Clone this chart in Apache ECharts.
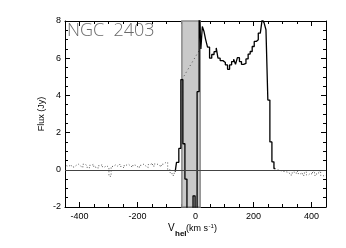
<!DOCTYPE html>
<html><head><meta charset="utf-8">
<script src="https://cdn.jsdelivr.net/npm/echarts@6/dist/echarts.min.js"></script>
<style>html,body{margin:0;padding:0;background:#fff}#c{width:346px;height:248px}</style>
</head><body><div id="c"></div>
<script>
// Axis ranges / ticks
const xRange = [-450, 450];
const yRange = [-2, 8];
const xTickLabels = [-400, -200, 0, 200, 400];
const yTickLabels = [-2, 0, 2, 4, 6, 8];

// Left baseline (dotted)
const leftX = [-445,-437,-430,-422,-415,-407,-400,-392,-385,-377,-370,-362,-355,-347,-340,-332,-325,-317,-310,-302,-295,-287,-280,-272,-265,-257,-250,-242,-235,-227,-220,-212,-205,-197,-190,-182,-175,-167,-160,-152,-145,-137,-130,-122,-115,-107,-100,-92,-85,-77,-70];
const leftY = [0.22,0.18,0.28,0.15,0.24,0.3,0.2,0.12,0.3,0.22,0.1,0.24,0.3,0.14,0.08,0.22,0.28,0.15,0.22,0.12,-0.35,0.18,0.26,0.2,0.3,0.18,0.1,0.25,0.3,0.2,0.14,0.26,0.18,0.1,0.24,0.3,0.2,0.12,0.28,0.36,0.2,0.32,0.25,0.15,0.3,0.38,0.4,0.02,-0.15,-0.3,-0.1];

// Main emission profile (solid)
const mainX = [-70,-61,-54,-47,-40,-33,-26,-19,-12,-5,2,9,16,21,26,32,38,45,52,60,68,75,80,90,99,107,114,121,128,135,141,148,155,162,170,178,185,192,199,206,213,220,227,233,240,246,253,260,267,274];
const mainY = [-0.1,0.4,1.15,4.85,1.4,-0.5,-5,-5,-5,-1.4,-5,4.2,9,6.5,7.7,7.45,7.0,6.6,6.0,6.2,6.35,6.55,6.0,5.87,5.77,5.64,5.4,5.64,5.82,5.94,5.67,6.03,5.82,5.67,5.72,5.96,6.22,6.36,6.63,6.9,6.99,7.35,7.44,8.1,7.9,7.53,3.75,1.5,0.43,0.07];

// Right baseline (dotted)
const rightX = [274,281,288,295,302,309,316,323,330,337,344,351,358,365,372,379,386,393,400,407,414,421,428,435,442,449];
const rightY = [0.07,0.02,-0.02,-0.05,-0.08,-0.1,-0.12,-0.15,-0.28,-0.12,-0.2,-0.08,-0.22,-0.15,-0.3,-0.12,-0.28,-0.18,-0.25,-0.05,-0.3,-0.18,-0.05,-0.3,-0.35,-0.3];

// Interpolation across contaminated range (dotted)
const interpX = [-47, 16];
const interpY = [4.85, 6.5];

// Galactic-contamination band
const bandRange = [-47, 16];

const pairs = (xs, ys) => xs.map((x, i) => [x, ys[i]]);

const chart = echarts.init(document.getElementById('c'), null, {renderer: 'canvas'});
const axisCommon = {
  type: 'value',
  axisLine: {show: true, onZero: false, lineStyle: {color: '#000', width: 1}},
  axisTick: {show: true, inside: true, length: 5, lineStyle: {color: '#000', width: 1}},
  minorTick: {show: true, splitNumber: 4, length: 3, lineStyle: {color: '#000', width: 1}},
  splitLine: {show: false},
  minorSplitLine: {show: false}
};
const lblFont = {fontFamily: 'Liberation Sans, Arial, sans-serif', fontSize: 9, color: '#000'};

chart.setOption({
  animation: false,
  backgroundColor: '#fff',
  grid: {left: 65, right: 20, top: 21, bottom: 41, containLabel: false},
  xAxis: [
    Object.assign({}, axisCommon, {
      position: 'bottom', min: xRange[0], max: xRange[1],
      axisLabel: Object.assign({}, lblFont, {margin: 5, showMinLabel: true, showMaxLabel: true,
        formatter: v => xTickLabels.indexOf(v) >= 0 ? String(v) : ''})
    }),
    Object.assign({}, axisCommon, {
      position: 'top', min: xRange[0], max: xRange[1], axisLabel: {show: false}
    })
  ],
  yAxis: [
    Object.assign({}, axisCommon, {
      position: 'left', min: yRange[0], max: yRange[1], interval: 2,
      axisLabel: Object.assign({}, lblFont, {margin: 4,
        formatter: v => yTickLabels.indexOf(v) >= 0 ? String(v) : ''})
    }),
    Object.assign({}, axisCommon, {
      position: 'right', min: yRange[0], max: yRange[1], interval: 2, axisLabel: {show: false}
    })
  ],
  series: [
    {
      type: 'line', data: [], z: 1, silent: true,
      markArea: {
        silent: true,
        itemStyle: {color: '#c9c9c9', borderColor: '#8a8a8a', borderWidth: 1.5},
        data: [[{xAxis: bandRange[0]}, {xAxis: bandRange[1]}]]
      },
      markLine: {
        silent: true, symbol: 'none', label: {show: false},
        lineStyle: {color: '#444', width: 1, type: 'solid'},
        data: [{yAxis: 0}]
      }
    },
    {
      type: 'line', data: pairs(leftX, leftY), step: 'middle', showSymbol: false, z: 3,
      lineStyle: {color: '#555', width: 1, type: [1, 2]}
    },
    {
      type: 'line', data: pairs(rightX, rightY), step: 'middle', showSymbol: false, z: 3,
      lineStyle: {color: '#555', width: 1, type: [1, 2]}
    },
    {
      type: 'line', data: pairs(interpX, interpY), showSymbol: false, z: 3,
      lineStyle: {color: '#555', width: 1, type: [1, 3]}
    },
    {
      type: 'line', data: pairs(mainX, mainY), step: 'middle', showSymbol: false, z: 4, clip: true,
      lineStyle: {color: '#000', width: 1.3}
    }
  ],
  graphic: [
    {type: 'text', left: 67, top: 22, style: {text: 'NGC  2403', fill: '#6a6a6a',
      font: '300 18px "Open Sans", "DejaVu Sans", sans-serif'}},
    {type: 'text', x: 42, y: 114, rotation: Math.PI / 2, style: {text: 'Flux (Jy)', fill: '#000',
      font: '9px "Liberation Sans", Arial, sans-serif', align: 'center', verticalAlign: 'middle'}},
    {type: 'text', x: 168, y: 233, style: {text: 'V', fill: '#000',
      font: '10px "Liberation Sans", Arial, sans-serif', verticalAlign: 'bottom'}},
    {type: 'text', x: 175, y: 238, style: {text: 'hel', fill: '#000',
      font: 'bold 8px "Liberation Sans", Arial, sans-serif', verticalAlign: 'bottom'}},
    {type: 'text', x: 186, y: 233, style: {text: '(km s', fill: '#000',
      font: '9px "Liberation Sans", Arial, sans-serif', verticalAlign: 'bottom'}},
    {type: 'text', x: 208.5, y: 229, style: {text: '-1', fill: '#000',
      font: '6px "Liberation Sans", Arial, sans-serif', verticalAlign: 'bottom'}},
    {type: 'text', x: 214, y: 233, style: {text: ')', fill: '#000',
      font: '9px "Liberation Sans", Arial, sans-serif', verticalAlign: 'bottom'}}
  ]
});
</script></body></html>
